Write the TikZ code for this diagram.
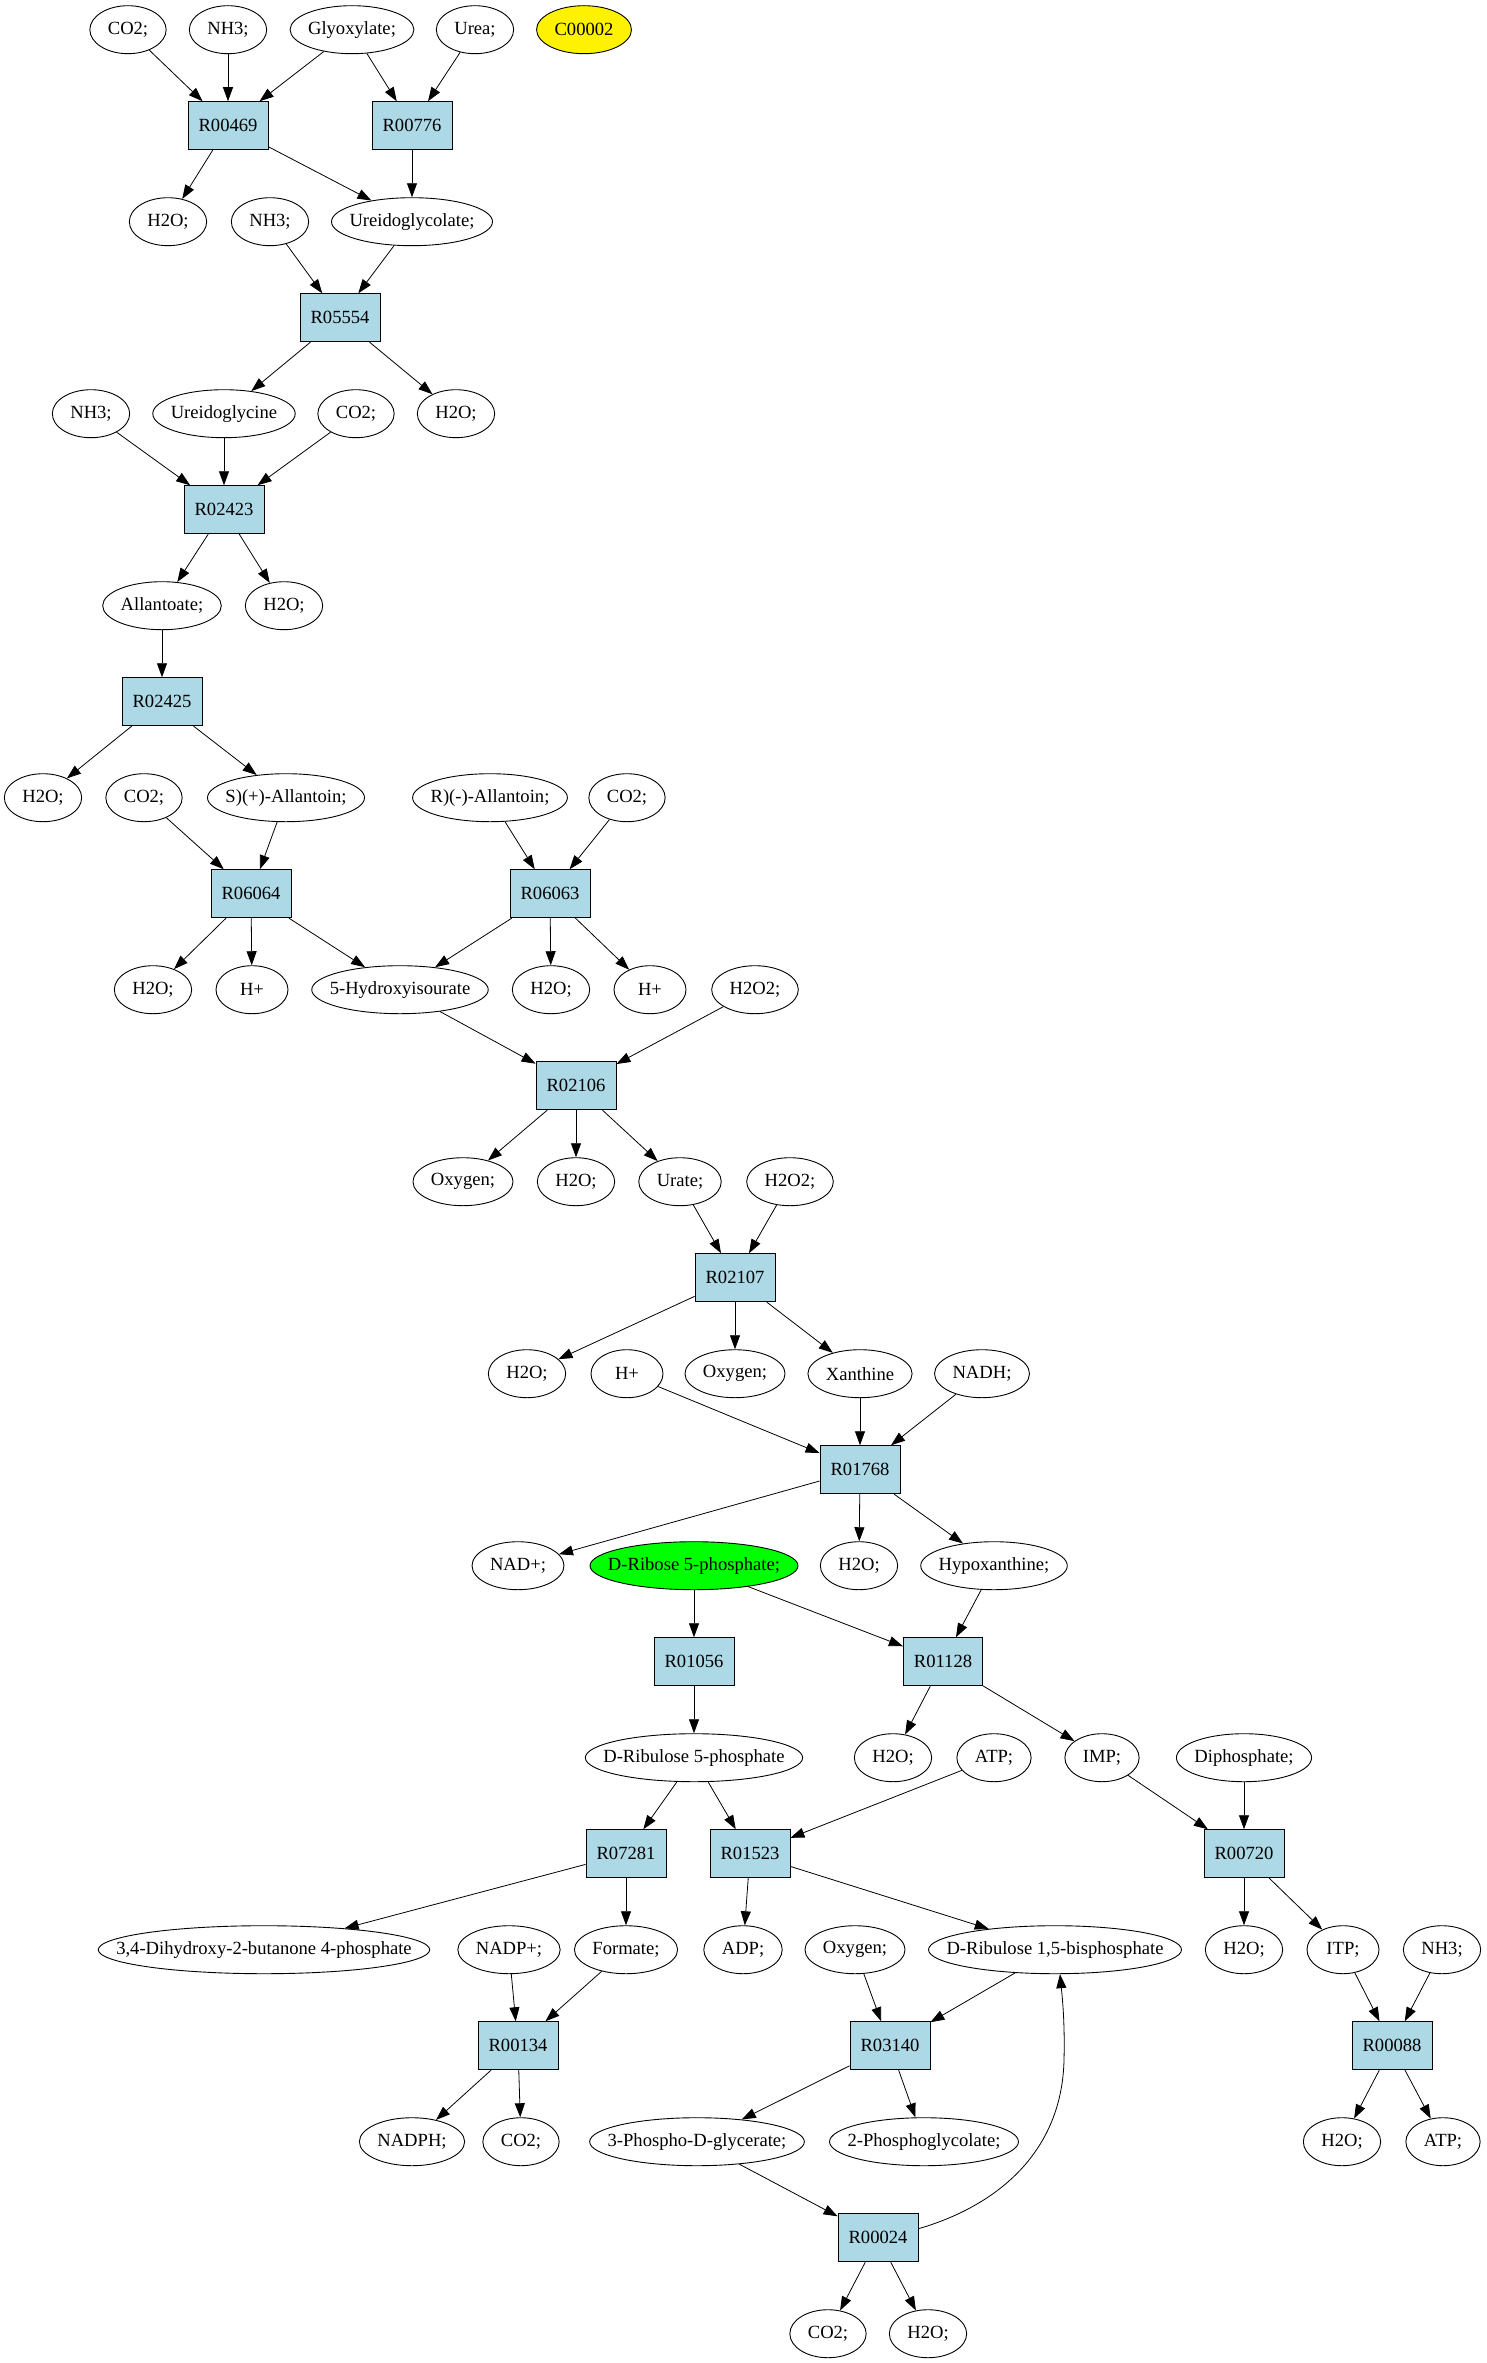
\documentclass[tikz,border=0pt]{standalone}
\usepackage{fontspec}
\setmainfont{Liberation Serif}
\usetikzlibrary{arrows.meta,shapes.geometric}
\definecolor{lb}{HTML}{ADD8E6}
\newlength\mylblw
\newcommand\gvf{\fontsize{18.6}{22}\selectfont}
\tikzset{
  met/.style={ellipse,draw=black,line width=0.9pt,minimum height=48pt,inner sep=0pt,font=\gvf},
  rxn/.style={rectangle,draw=black,line width=0.9pt,fill=lb,minimum height=48pt,minimum width=72pt,inner xsep=10.5pt,inner ysep=0pt,font=\gvf},
  edge/.style={-{Triangle[length=14pt,width=10pt]},line width=0.8pt,black}
}
\newcommand\mnode[5][]{%
  \pgfinterruptpicture
  \settowidth{\mylblw}{\normalfont\gvf #5}%
  \global\mylblw=\mylblw
  \endpgfinterruptpicture
  \pgfmathsetlengthmacro\mywd{max(72pt,\mylblw+36pt)}%
  \node[met,minimum width=\mywd,#1] (#2) at ({#3},{29.7+96*#4}) {\makebox[0pt]{#5}};}
\newcommand\rnode[3]{\node[rxn] (#1) at ({#2},{29.7+96*#3}) {#1};}
\begin{document}
\begin{tikzpicture}[x=1pt,y=-1pt]
\useasboundingbox (0,0) rectangle (1487,2363);
% rank 0
\mnode{co2a}{128}{0}{CO2;}
\mnode{nh3a}{228}{0}{NH3;}
\mnode{glyox}{352}{0}{Glyoxylate;}
\mnode{urea}{475}{0}{Urea;}
\mnode[fill=yellow]{c00002}{584}{0}{C00002}
\rnode{R00469}{228}{1}
\rnode{R00776}{412}{1}
\mnode{h2oa}{168}{2}{H2O;}
\mnode{nh3b}{270}{2}{NH3;}
\mnode{uglycolate}{412}{2}{Ureidoglycolate;}
\rnode{R05554}{340}{3}
\mnode{nh3c}{91}{4}{NH3;}
\mnode{uglycine}{224}{4}{Ureidoglycine}
\mnode{co2b}{356}{4}{CO2;}
\mnode{h2ob}{456}{4}{H2O;}
\rnode{R02423}{224}{5}
\mnode{allantoate}{162}{6}{Allantoate;}
\mnode{h2oc}{284}{6}{H2O;}
\rnode{R02425}{162}{7}
\mnode{h2od}{43}{8}{H2O;}
\mnode{co2c}{144}{8}{CO2;}
\mnode{sall}{286}{8}{S)(+)-Allantoin;}
\mnode{rall}{490}{8}{R)(-)-Allantoin;}
\mnode{co2d}{627}{8}{CO2;}
\rnode{R06064}{251}{9}
\rnode{R06063}{550}{9}
\mnode{h2oe}{153}{10}{H2O;}
\mnode{hpa}{252}{10}{H+}
\mnode{hiu}{400}{10}{5-Hydroxyisourate}
\mnode{h2of}{551}{10}{H2O;}
\mnode{hpb}{650}{10}{H+}
\mnode{hpxa}{755}{10}{H2O2;}
\rnode{R02106}{576}{11}
\mnode{oxya}{463}{12}{Oxygen;}
\mnode{h2og}{576}{12}{H2O;}
\mnode{urate}{680}{12}{Urate;}
\mnode{hpxb}{790}{12}{H2O2;}
\rnode{R02107}{735}{13}
\mnode{h2oh}{527}{14}{H2O;}
\mnode{hpc}{627}{14}{H+}
\mnode{oxyb}{735}{14}{Oxygen;}
\mnode{xan}{860}{14}{Xanthine}
\mnode{nadh}{982}{14}{NADH;}
\rnode{R01768}{860}{15}
\mnode{nad}{518}{16}{NAD+;}
\mnode[fill=green]{r5p}{694}{16}{D-Ribose 5-phosphate;}
\mnode{h2oi}{859}{16}{H2O;}
\mnode{hypox}{994}{16}{Hypoxanthine;}
\rnode{R01056}{694}{17}
\rnode{R01128}{943}{17}
\mnode{ru5p}{694}{18}{D-Ribulose 5-phosphate}
\mnode{h2oj}{893}{18}{H2O;}
\mnode{atpa}{994}{18}{ATP;}
\mnode{imp}{1102}{18}{IMP;}
\mnode{pp}{1244}{18}{Diphosphate;}
\rnode{R07281}{626}{19}
\rnode{R01523}{750}{19}
\rnode{R00720}{1244}{19}
\mnode{dhbp}{264}{20}{3,4-Dihydroxy-2-butanone 4-phosphate}
\mnode{nadpp}{509}{20}{NADP+;}
\mnode{formate}{626}{20}{Formate;}
\mnode{adp}{743}{20}{ADP;}
\mnode{oxyc}{855}{20}{Oxygen;}
\mnode{rubp}{1055}{20}{D-Ribulose 1,5-bisphosphate}
\mnode{h2ok}{1244}{20}{H2O;}
\mnode{itp}{1343}{20}{ITP;}
\mnode{nh3d}{1442}{20}{NH3;}
\rnode{R00134}{518}{21}
\rnode{R03140}{890}{21}
\rnode{R00088}{1392}{21}
\mnode{nadph}{412}{22}{NADPH;}
\mnode{co2e}{521}{22}{CO2;}
\mnode{pga}{697}{22}{3-Phospho-D-glycerate;}
\mnode{pgly}{924}{22}{2-Phosphoglycolate;}
\mnode{h2ol}{1342}{22}{H2O;}
\mnode{atpb}{1443}{22}{ATP;}
\rnode{R00024}{878}{23}
\mnode{co2f}{828}{24}{CO2;}
\mnode{h2om}{928}{24}{H2O;}
% edges
\foreach \a/\b in {co2a/R00469,nh3a/R00469,glyox/R00469,glyox/R00776,urea/R00776,
  R00469/h2oa,R00469/uglycolate,R00776/uglycolate,
  nh3b/R05554,uglycolate/R05554,
  R05554/uglycine,R05554/h2ob,
  nh3c/R02423,uglycine/R02423,co2b/R02423,
  R02423/allantoate,R02423/h2oc,
  allantoate/R02425,
  R02425/h2od,R02425/sall,
  co2c/R06064,sall/R06064,
  rall/R06063,co2d/R06063,
  R06064/h2oe,R06064/hpa,R06064/hiu,
  R06063/hiu,R06063/h2of,R06063/hpb,
  hiu/R02106,hpxa/R02106,
  R02106/oxya,R02106/h2og,R02106/urate,
  urate/R02107,hpxb/R02107,
  R02107/h2oh,R02107/oxyb,R02107/xan,
  hpc/R01768,xan/R01768,nadh/R01768,
  R01768/nad,R01768/h2oi,R01768/hypox,
  r5p/R01056,r5p/R01128,hypox/R01128,
  R01056/ru5p,
  R01128/h2oj,R01128/imp,
  ru5p/R07281,ru5p/R01523,atpa/R01523,
  imp/R00720,pp/R00720,
  R07281/dhbp,R07281/formate,
  R01523/adp,R01523/rubp,
  R00720/h2ok,R00720/itp,
  nadpp/R00134,formate/R00134,
  oxyc/R03140,rubp/R03140,
  itp/R00088,nh3d/R00088,
  R00134/nadph,R00134/co2e,
  R03140/pga,R03140/pgly,
  R00088/h2ol,R00088/atpb,
  pga/R00024,
  R00024/co2f,R00024/h2om}
  {\draw[edge] (\a) -- (\b);}
\draw[edge] ([yshift=9pt]R00024.east) .. controls (1000,2205) and (1062,2150) .. (1064,2060) .. controls (1065,2020) and (1062,1995) .. ([xshift=5pt]rubp.south);
\end{tikzpicture}
\end{document}
